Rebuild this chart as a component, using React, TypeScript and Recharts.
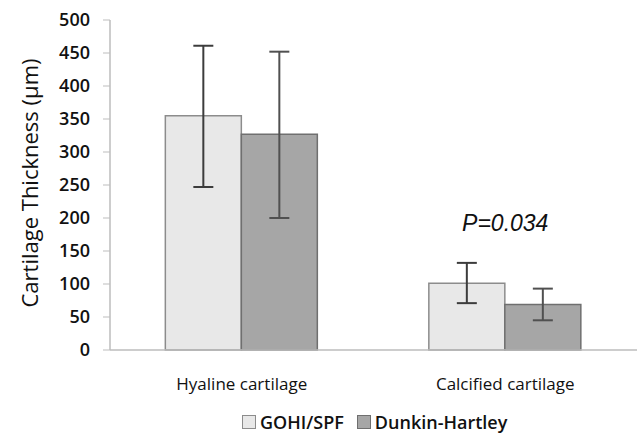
import React from "react"
import {
  Bar,
  BarChart,
  ErrorBar,
  ReferenceDot,
  XAxis,
  YAxis,
} from "recharts"

const categories = ["Hyaline cartilage", "Calcified cartilage"]
const seriesNames = ["GOHI/SPF", "Dunkin-Hartley"]
const gohiMeans = [355, 101]
const gohiErrors: [number, number][] = [
  [108, 106],
  [30, 31],
]
const dunkinMeans = [327, 69]
const dunkinErrors: [number, number][] = [
  [127, 125],
  [24, 24],
]
const yTicks = [0, 50, 100, 150, 200, 250, 300, 350, 400, 450, 500]
const yLabel = "Cartilage Thickness (µm)"
const pLabel = "P=0.034"
const pLabelY = 192

const FONT = "'Open Sans', sans-serif"
const fills = ["#e8e8e8", "#a6a6a6"]
const strokes = ["#8c8c8c", "#6f6f6f"]

const data = categories.map((name, i) => ({
  name,
  gohi: gohiMeans[i],
  gohiErr: gohiErrors[i],
  dunkin: dunkinMeans[i],
  dunkinErr: dunkinErrors[i],
}))

function YLabel({ viewBox }: any) {
  const cx = viewBox.x + 29
  const cy = viewBox.y + viewBox.height / 2 - 2
  return (
    <text
      x={cx}
      y={cy}
      transform={`rotate(-90, ${cx}, ${cy})`}
      textAnchor="middle"
      dominantBaseline="central"
      fontFamily={FONT}
      fontSize={22}
      fill="#111"
    >
      {yLabel}
    </text>
  )
}

export default function App() {
  return (
    <div style={{ position: "absolute", left: 0, top: 0, width: 640, height: 433, background: "#fff" }}>
      <BarChart
        width={640}
        height={433}
        data={data}
        margin={{ top: 20, right: 3, left: 0, bottom: 38 }}
        barCategoryGap="21%"
        barGap={0}
      >
        <XAxis
          dataKey="name"
          height={45}
          tickLine={false}
          axisLine={{ stroke: "#bdbdbd", strokeWidth: 1.5 }}
          tickMargin={22}
          tick={{ fill: "#111", fontSize: 17, fontWeight: 500, fontFamily: FONT }}
        />
        <YAxis
          width={110}
          domain={[0, 500]}
          ticks={yTicks}
          interval={0}
          tickSize={7}
          tickMargin={13}
          tickLine={{ stroke: "#bdbdbd" }}
          axisLine={{ stroke: "#bdbdbd", strokeWidth: 1.5 }}
          tick={{ fill: "#111", fontSize: 18, fontWeight: 600, fontFamily: FONT }}
          label={<YLabel />}
        />
        <Bar
          dataKey="gohi"
          name={seriesNames[0]}
          fill={fills[0]}
          stroke={strokes[0]}
          strokeWidth={1.5}
          isAnimationActive={false}
        >
          <ErrorBar dataKey="gohiErr" width={10} stroke="#3c3c3c" strokeWidth={2} />
        </Bar>
        <Bar
          dataKey="dunkin"
          name={seriesNames[1]}
          fill={fills[1]}
          stroke={strokes[1]}
          strokeWidth={1.5}
          isAnimationActive={false}
        >
          <ErrorBar dataKey="dunkinErr" width={10} stroke="#505050" strokeWidth={2} />
        </Bar>
        <ReferenceDot
          x={categories[1]}
          y={pLabelY}
          r={0}
          fill="none"
          stroke="none"
          label={{
            value: pLabel,
            position: "center",
            fill: "#111",
            fontSize: 23,
            fontStyle: "italic",
            fontFamily: "'Liberation Sans', Arial, sans-serif",
          }}
        />
      </BarChart>
      <div
        style={{
          position: "absolute",
          top: 409,
          left: 242,
          display: "flex",
          gap: 13,
          fontFamily: FONT,
          fontSize: 18,
          fontWeight: 600,
          color: "#111",
          lineHeight: "26px",
        }}
      >
        {seriesNames.map((n, i) => (
          <span key={n} style={{ display: "flex", alignItems: "center", gap: 4 }}>
            <span
              style={{
                width: 14,
                height: 14,
                background: fills[i],
                border: `1.5px solid ${strokes[i]}`,
                boxSizing: "border-box",
              }}
            />
            {n}
          </span>
        ))}
      </div>
    </div>
  )
}
